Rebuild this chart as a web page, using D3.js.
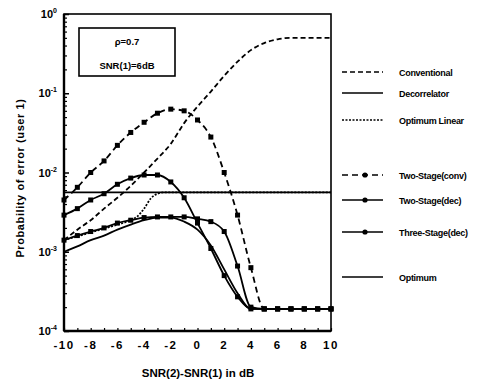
<!DOCTYPE html>
<html lang="en">
<head>
  <meta charset="UTF-8" />
  <title>Probability of error vs SNR difference</title>
  <script src="https://cdn.jsdelivr.net/npm/d3@7"></script>
  <style>
    body { margin: 0; background: #fff; }
    svg { font-family: "Liberation Sans", Arial, sans-serif; font-weight: bold; }
  </style>
</head>
<body>
  <div id="chart"></div>
  <script>
    // SNR(2)-SNR(1) in dB, one point per dB
    const snr = d3.range(-10, 11);

    const conventional = [1.4e-3, 1.9e-3, 2.5e-3, 3.5e-3, 4.8e-3, 6.8e-3, 1.0e-2, 1.5e-2, 2.3e-2, 4.2e-2,
      6.8e-2, 0.105, 0.166, 0.25, 0.35, 0.43, 0.48, 0.5, 0.5, 0.5, 0.5];
    const twoStageConv = [4.5e-3, 6.5e-3, 1.0e-2, 1.4e-2, 2.2e-2, 3.2e-2, 4.3e-2, 5.6e-2, 6.3e-2, 6.0e-2,
      4.6e-2, 2.8e-2, 1.0e-2, 2.9e-3, 6.3e-4, 1.9e-4, 1.9e-4, 1.9e-4, 1.9e-4, 1.9e-4, 1.9e-4];
    const twoStageDec = [2.9e-3, 3.5e-3, 4.5e-3, 5.4e-3, 7.1e-3, 8.5e-3, 9.3e-3, 9.3e-3, 7.6e-3, 4.8e-3,
      2.3e-3, 1.1e-3, 5.0e-4, 2.7e-4, 1.9e-4, 1.9e-4, 1.9e-4, 1.9e-4, 1.9e-4, 1.9e-4, 1.9e-4];
    const threeStageDec = [1.4e-3, 1.6e-3, 1.8e-3, 2.0e-3, 2.3e-3, 2.5e-3, 2.7e-3, 2.75e-3, 2.75e-3, 2.75e-3,
      2.6e-3, 2.4e-3, 1.8e-3, 6.6e-4, 2.0e-4, 1.9e-4, 1.9e-4, 1.9e-4, 1.9e-4, 1.9e-4, 1.9e-4];
    const optimum = [1.0e-3, 1.17e-3, 1.4e-3, 1.6e-3, 1.9e-3, 2.2e-3, 2.5e-3, 2.7e-3, 2.7e-3, 2.4e-3,
      1.9e-3, 1.2e-3, 6.0e-4, 3.0e-4, 1.9e-4, 1.9e-4, 1.9e-4, 1.9e-4, 1.9e-4, 1.9e-4, 1.9e-4];

    // optimum linear has its own sample points
    const optLinSnr = [-10, -8, -6, -5, -4.5, -4, -3.5, -3, -2.5, 10];
    const optLinear = [1.4e-3, 1.75e-3, 2.2e-3, 2.5e-3, 2.8e-3, 3.5e-3, 4.7e-3, 5.4e-3, 5.6e-3, 5.6e-3];

    const decorSnr = [-10, 10];
    const decorrelator = [5.6e-3, 5.6e-3];

    const xTicks = [-10, -8, -6, -4, -2, 0, 2, 4, 6, 8, 10];
    const yTicks = [1e-4, 1e-3, 1e-2, 1e-1, 1];
    const yTickExp = ["-4", "-3", "-2", "-1", "0"];

    const W = 485, H = 385;
    const plotL = 64, plotR = 331, plotT = 14, plotB = 331;

    const svg = d3.select("#chart").append("svg")
      .attr("width", W).attr("height", H);

    const x = d3.scaleLinear().domain([-10, 10]).range([plotL, plotR]);
    const y = d3.scaleLog().domain([1e-4, 1]).range([plotB, plotT]);

    // minor ticks on the log axis
    const minor = [];
    for (let e = -4; e < 0; e++) for (let m = 2; m <= 9; m++) minor.push(m * Math.pow(10, e));

    svg.append("g")
      .attr("transform", `translate(${plotL},0)`)
      .call(d3.axisRight(y).tickValues(minor).tickSize(3).tickFormat(""))
      .call(g => g.select(".domain").remove())
      .selectAll("line").attr("stroke-width", 1.2);

    svg.append("g")
      .attr("transform", `translate(${plotL},0)`)
      .call(d3.axisRight(y).tickValues(yTicks).tickSize(5).tickFormat(""))
      .call(g => g.select(".domain").remove())
      .selectAll("line").attr("stroke-width", 1.5);

    svg.append("g")
      .attr("transform", `translate(0,${plotB})`)
      .call(d3.axisTop(x).tickValues(d3.range(-10, 11)).tickSize(3).tickFormat(""))
      .call(g => g.select(".domain").remove())
      .selectAll("line").attr("stroke-width", 1.2);

    // frame
    svg.append("rect")
      .attr("x", plotL).attr("y", plotT)
      .attr("width", plotR - plotL).attr("height", plotB - plotT)
      .attr("fill", "none").attr("stroke", "#000").attr("stroke-width", 1.6);
    svg.append("line").attr("x1", plotL).attr("x2", plotL).attr("y1", plotT).attr("y2", plotB)
      .attr("stroke", "#000").attr("stroke-width", 2.4);
    svg.append("line").attr("x1", plotL).attr("x2", plotR).attr("y1", plotB).attr("y2", plotB)
      .attr("stroke", "#000").attr("stroke-width", 2.4);

    // y tick labels 10^n
    const yl = svg.append("g");
    yTicks.forEach((t, i) => {
      const txt = yl.append("text")
        .attr("x", 57).attr("y", y(t) + 4)
        .attr("text-anchor", "end")
        .attr("font-size", 11);
      txt.append("tspan").text("10");
      txt.append("tspan").attr("dy", -5).attr("font-size", 7).text(yTickExp[i]);
    });

    // x tick labels
    svg.append("g").selectAll("text").data(xTicks).join("text")
      .attr("x", d => x(d)).attr("y", 349)
      .attr("text-anchor", "middle")
      .attr("font-size", 11.5)
      .attr("letter-spacing", 1.5)
      .text(d => d < 0 ? "-" + Math.abs(d) : d);

    svg.append("text")
      .attr("x", 198).attr("y", 377)
      .attr("text-anchor", "middle").attr("font-size", 11.5)
      .text("SNR(2)-SNR(1) in dB");

    svg.append("text")
      .attr("transform", "translate(24,178) rotate(-90)")
      .attr("text-anchor", "middle").attr("font-size", 11)
      .attr("letter-spacing", 0.6)
      .text("Probability of error (user 1)");

    // parameter box
    svg.append("rect").attr("x", 79).attr("y", 28).attr("width", 96).attr("height", 48)
      .attr("fill", "none").attr("stroke", "#000").attr("stroke-width", 1.6);
    svg.append("text").attr("x", 127).attr("y", 45).attr("text-anchor", "middle")
      .attr("font-size", 9.5).text("\u03c1=0.7");
    svg.append("text").attr("x", 127).attr("y", 69).attr("text-anchor", "middle")
      .attr("font-size", 9.5).text("SNR(1)=6dB");

    const series = [
      { name: "Conventional", xs: snr, ys: conventional, dash: "5,3", marks: false, ly: 72 },
      { name: "Decorrelator", xs: decorSnr, ys: decorrelator, dash: null, marks: false, ly: 93 },
      { name: "Optimum Linear", xs: optLinSnr, ys: optLinear, dash: "2,1.5", marks: false, ly: 120 },
      { name: "Two-Stage(conv)", xs: snr, ys: twoStageConv, dash: "6,4", marks: true, ly: 175 },
      { name: "Two-Stage(dec)", xs: snr, ys: twoStageDec, dash: null, marks: true, ly: 200 },
      { name: "Three-Stage(dec)", xs: snr, ys: threeStageDec, dash: null, marks: true, ly: 232 },
      { name: "Optimum", xs: snr, ys: optimum, dash: null, marks: false, ly: 277 }
    ];

    const line = d3.line().x(d => x(d[0])).y(d => y(d[1])).curve(d3.curveMonotoneX);

    series.forEach(s => {
      const pts = s.xs.map((v, i) => [v, s.ys[i]]);
      svg.append("path")
        .datum(pts)
        .attr("d", line)
        .attr("fill", "none").attr("stroke", "#000")
        .attr("stroke-width", 1.8)
        .attr("stroke-dasharray", s.dash);
      if (s.marks) {
        svg.append("g").selectAll("rect").data(pts).join("rect")
          .attr("x", d => x(d[0]) - 2.5).attr("y", d => y(d[1]) - 2.5)
          .attr("width", 5).attr("height", 5).attr("fill", "#000");
      }

      // legend entry
      svg.append("line")
        .attr("x1", 342).attr("x2", 383).attr("y1", s.ly).attr("y2", s.ly)
        .attr("stroke", "#000").attr("stroke-width", 1.3)
        .attr("stroke-dasharray", s.dash);
      if (s.marks) {
        svg.append("circle").attr("cx", 365).attr("cy", s.ly).attr("r", 2.6).attr("fill", "#000");
      }
      svg.append("text")
        .attr("x", 399).attr("y", s.ly + 3.5)
        .attr("font-size", 9).attr("letter-spacing", -0.3)
        .text(s.name);
    });
  </script>
</body>
</html>
